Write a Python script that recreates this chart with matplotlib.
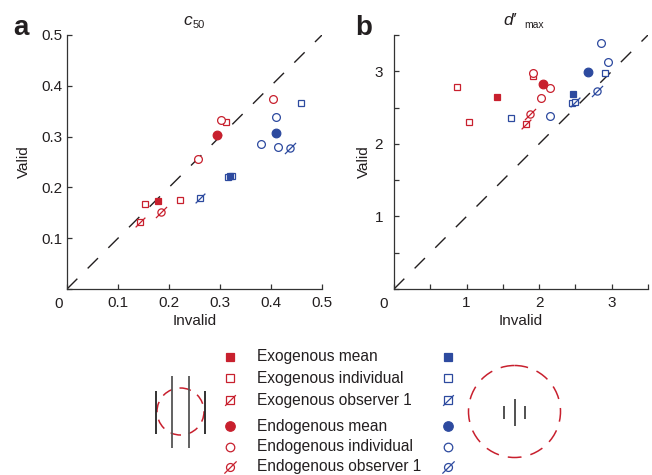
import matplotlib.pyplot as plt
from matplotlib.path import Path
from matplotlib.patches import Circle

plt.rcParams['font.family'] = 'Liberation Sans'

# ---- data (invalid, valid) ----
# panel a: c50
c50_red_exo_mean = ([0.178], [0.174])
c50_red_exo_ind = ([0.153, 0.221, 0.312], [0.167, 0.176, 0.329])
c50_red_exo_obs1 = ([0.143], [0.131])
c50_red_endo_mean = ([0.295], [0.304])
c50_red_endo_ind = ([0.256, 0.301, 0.404], [0.255, 0.333, 0.374])
c50_red_endo_obs1 = ([0.185], [0.152])

c50_blue_exo_mean = ([0.320], [0.222])
c50_blue_exo_ind = ([0.459, 0.316, 0.324], [0.366, 0.221, 0.222])
c50_blue_exo_obs1 = ([0.260], [0.180])
c50_blue_endo_mean = ([0.410], [0.308])
c50_blue_endo_ind = ([0.381, 0.410, 0.413], [0.286, 0.338, 0.280])
c50_blue_endo_obs1 = ([0.438], [0.278])

# panel b: d'max
dmax_red_exo_mean = ([1.415], [2.64])
dmax_red_exo_ind = ([0.864, 1.03, 1.92], [2.78, 2.30, 2.93])
dmax_red_exo_obs1 = ([1.82], [2.28])
dmax_red_endo_mean = ([2.05], [2.82])
dmax_red_endo_ind = ([1.92, 2.15, 2.03], [2.97, 2.77, 2.63])
dmax_red_endo_obs1 = ([1.87], [2.41])

dmax_blue_exo_mean = ([2.46], [2.69])
dmax_blue_exo_ind = ([1.61, 2.91, 2.45], [2.35, 2.98, 2.56])
dmax_blue_exo_obs1 = ([2.49], [2.57])
dmax_blue_endo_mean = ([2.67], [2.99])
dmax_blue_endo_ind = ([2.85, 2.95, 2.15], [3.39, 3.13, 2.39])
dmax_blue_endo_obs1 = ([2.80], [2.73])

legend_labels = ['Exogenous mean', 'Exogenous individual', 'Exogenous observer 1',
                 'Endogenous mean', 'Endogenous individual', 'Endogenous observer 1']

RED = '#c8202e'
BLUE = '#2d4a9f'
INK = '#231f20'
SLASH = Path([(-1, -1), (1, 1)], [Path.MOVETO, Path.LINETO])


def mark(ax, xy, kind, color, big=1.0):
    x, y = xy
    kw = dict(linestyle='none', clip_on=False, color=color, markeredgewidth=0.9)
    if kind == 'mean_sq':
        ax.plot(x, y, marker='s', markersize=5.0 * big, markerfacecolor=color, **kw)
    elif kind == 'ind_sq':
        ax.plot(x, y, marker='s', markersize=4.6 * big, markerfacecolor='white', **kw)
    elif kind == 'obs_sq':
        ax.plot(x, y, marker='s', markersize=4.6 * big, markerfacecolor='white', **kw)
        ax.plot(x, y, marker=SLASH, markersize=7.0 * big, **kw)
    elif kind == 'mean_ci':
        ax.plot(x, y, marker='o', markersize=6.2 * big, markerfacecolor=color, **kw)
    elif kind == 'ind_ci':
        ax.plot(x, y, marker='o', markersize=5.6 * big, markerfacecolor='white', **kw)
    elif kind == 'obs_ci':
        ax.plot(x, y, marker='o', markersize=5.2 * big, markerfacecolor='white', **kw)
        ax.plot(x, y, marker=SLASH, markersize=8.0 * big, **kw)


def style_axes(ax, lim, ticks, labels, ypad, zero_off, ylabpad):
    ax.set_xlim(0, lim)
    ax.set_ylim(0, lim)
    ax.plot([0, lim], [0, lim], color=INK, lw=1.0, dashes=(10.5, 10.5), zorder=1)
    for s in ['top', 'right']:
        ax.spines[s].set_visible(False)
    for s in ['left', 'bottom']:
        ax.spines[s].set_linewidth(0.9)
        ax.spines[s].set_color('#333333')
    ax.set_xticks(ticks)
    ax.set_xticklabels(labels)
    ax.set_yticks(ticks)
    ax.set_yticklabels(labels)
    ax.tick_params(direction='in', length=3.6, width=0.9, color='#333333',
                   labelsize=11, labelcolor=INK)
    ax.tick_params(axis='x', pad=5)
    ax.tick_params(axis='y', pad=ypad)
    ax.annotate('0', xy=(0, 0), xytext=zero_off, textcoords='offset points',
                ha='center', va='center', fontsize=11, color=INK)
    ax.set_xlabel('Invalid', fontsize=11, color=INK, labelpad=3)
    ax.set_ylabel('Valid', fontsize=11, color=INK, labelpad=ylabpad)


fig = plt.figure(figsize=(6.52, 4.75), dpi=100)
ax_a = fig.add_axes([67 / 652, 1 - 289 / 475, 255 / 652, 254 / 475])
ax_b = fig.add_axes([394 / 652, 1 - 289 / 475, 254 / 652, 254 / 475])

style_axes(ax_a, 0.5, [0, 0.1, 0.2, 0.3, 0.4, 0.5], ['', '0.1', '0.2', '0.3', '0.4', '0.5'],
           3.5, (-6.1, -10.6), 7.5)
style_axes(ax_b, 3.5, [0, 0.5, 1, 1.5, 2, 2.5, 3, 3.5], ['', '', '1', '', '2', '', '3', ''],
           8.0, (-7.6, -10.6), 2.5)

panels = [
    (ax_a, [c50_red_exo_mean, c50_red_exo_ind, c50_red_exo_obs1,
            c50_red_endo_mean, c50_red_endo_ind, c50_red_endo_obs1],
           [c50_blue_exo_mean, c50_blue_exo_ind, c50_blue_exo_obs1,
            c50_blue_endo_mean, c50_blue_endo_ind, c50_blue_endo_obs1]),
    (ax_b, [dmax_red_exo_mean, dmax_red_exo_ind, dmax_red_exo_obs1,
            dmax_red_endo_mean, dmax_red_endo_ind, dmax_red_endo_obs1],
           [dmax_blue_exo_mean, dmax_blue_exo_ind, dmax_blue_exo_obs1,
            dmax_blue_endo_mean, dmax_blue_endo_ind, dmax_blue_endo_obs1]),
]
kinds = ['mean_sq', 'ind_sq', 'obs_sq', 'mean_ci', 'ind_ci', 'obs_ci']
# individuals first, means on top
order = [1, 2, 4, 5, 0, 3]
for ax, reds, blues in panels:
    for grp_set, col in [(blues, BLUE), (reds, RED)]:
        for i in order:
            mark(ax, grp_set[i], kinds[i], col)

# titles and panel letters
fig.text(183 / 652, 1 - 25 / 475, 'c', fontsize=12.5, style='italic', ha='left',
         va='baseline', color=INK)
fig.text(193 / 652, 1 - 28 / 475, '50', fontsize=8, ha='left', va='baseline', color=INK)
fig.text(503 / 652, 1 - 25 / 475, 'd\u2032', fontsize=12.5, style='italic', ha='left',
         va='baseline', color=INK)
fig.text(524 / 652, 1 - 28 / 475, 'max', fontsize=7.5, ha='left', va='baseline', color=INK)
fig.text(13 / 652, 1 - 35 / 475, 'a', fontsize=20, fontweight='bold', ha='left',
         va='baseline', color=INK)
fig.text(355 / 652, 1 - 35 / 475, 'b', fontsize=20, fontweight='bold', ha='left',
         va='baseline', color=INK)

# legend + stimulus sketches, drawn in pixel units
lg = fig.add_axes([0, 0, 1, 1], facecolor='none')
lg.set_xlim(0, 652)
lg.set_ylim(475, 0)
lg.axis('off')

rows_y = [357, 378, 400, 426, 447, 467]
for k, lab, ry in zip(kinds, legend_labels, rows_y):
    mark(lg, ([230], [ry]), k, RED, big=1.1)
    mark(lg, ([448], [ry]), k, BLUE, big=1.1)
    lg.text(257, ry, lab, fontsize=11.2, va='center', ha='left', color=INK)

# left sketch: large grating, small dashed circle
lg.vlines([155.7, 205], 390.7, 434, color='#222222', lw=1.3)
lg.vlines([171.7, 189], 376, 448, color='#555555', lw=1.3)
lg.add_patch(Circle((180.5, 411.5), 23.5, fill=False, ec=RED, lw=1.1,
                    linestyle=(0, (7, 5))))

# right sketch: small grating, large dashed circle
lg.vlines([504, 525], 406, 419, color='#222222', lw=1.1)
lg.vlines([515], 399, 426, color='#222222', lw=1.1)
lg.add_patch(Circle((514.5, 411.5), 46, fill=False, ec=RED, lw=1.1,
                    linestyle=(0, (9, 6))))

fig.savefig('out.png', dpi=100)
